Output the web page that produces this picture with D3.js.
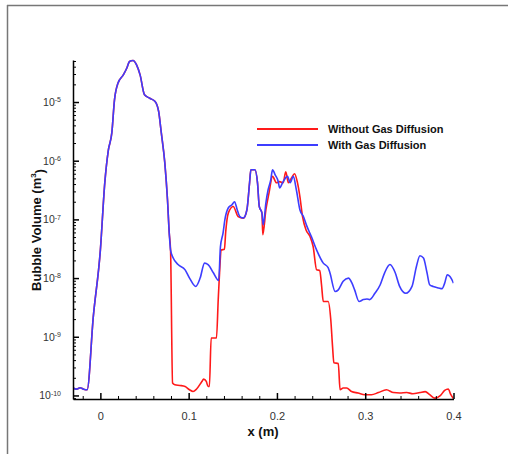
<!DOCTYPE html>
<html><head><meta charset="utf-8">
<script src="https://cdn.jsdelivr.net/npm/d3@7"></script>
<style>html,body{margin:0;padding:0;background:#fff;}svg{display:block;}</style>
</head><body>
<svg id="chart" width="508" height="454"></svg>
<script>
// ---- data ----
const sharedX = [-0.031,-0.027,-0.023,-0.019,-0.015,-0.008,0.0,0.005,0.009,0.013,0.016,0.020,0.026,0.030,0.033,0.037,0.041,0.045,0.050,0.056,0.062,0.066,0.069,0.073,0.076,0.078,0.0795];
const sharedV = [1.34e-10,1.28e-10,1.35e-10,1.28e-10,1.25e-10,2.2e-9,3.0e-8,4.2e-7,1.5e-6,3.0e-6,1.09e-5,2.1e-5,2.9e-5,3.8e-5,4.9e-5,5.1e-5,4.3e-5,2.9e-5,1.33e-5,1.16e-5,1.02e-5,6.9e-6,3.0e-6,9.2e-7,2.2e-7,5.9e-8,3.0e-8];

const withTailX = [0.0825,0.088,0.096,0.101,0.108,0.113,0.118,0.122,0.128,0.134,0.136,0.139,0.141,0.145,0.149,0.152,0.155,0.158,0.162,0.166,0.169,0.1705,0.175,0.178,0.180,0.183,0.1845,0.1875,0.190,0.193,0.195,0.198,0.2015,0.203,0.207,0.212,0.215,0.2185,0.222,0.226,0.230,0.234,0.239,0.245,0.2525,0.258,0.260,0.266,0.2695,0.275,0.281,0.285,0.288,0.293,0.298,0.302,0.305,0.311,0.317,0.322,0.328,0.334,0.339,0.346,0.353,0.358,0.362,0.366,0.370,0.373,0.377,0.383,0.387,0.390,0.393,0.396,0.400];
const withTailV = [2.2e-8,1.7e-8,1.38e-8,1.0e-8,7.2e-9,1.0e-8,1.8e-8,1.7e-8,1.23e-8,9.1e-9,3.4e-8,5.9e-8,9.8e-8,1.58e-7,1.77e-7,2.0e-7,1.46e-7,1.12e-7,1.06e-7,1.46e-7,4.2e-7,7.0e-7,7.0e-7,4.2e-7,1.66e-7,1.29e-7,8.1e-8,1.92e-7,3.2e-7,4.7e-7,7.0e-7,5.75e-7,4.4e-7,3.45e-7,4.4e-7,5.4e-7,4.2e-7,5.4e-7,3.2e-7,1.46e-7,1.12e-7,7.6e-8,5.1e-8,3.0e-8,1.8e-8,1.5e-8,1.23e-8,5.9e-9,6.3e-9,8.8e-9,1.0e-8,8.2e-9,6.3e-9,4.0e-9,4.3e-9,4.4e-9,4.3e-9,5.5e-9,7.7e-9,1.23e-8,1.7e-8,1.23e-8,7.2e-9,5.5e-9,7.2e-9,1.58e-8,2.4e-8,2.2e-8,1.23e-8,7.7e-9,7.2e-9,6.8e-9,6.6e-9,8.2e-9,1.14e-8,1.06e-8,8.2e-9];

const withoutTailX = [0.0818,0.0844,0.090,0.096,0.101,0.105,0.109,0.115,0.117,0.120,0.122,0.1235,0.1255,0.1315,0.1335,0.1346,0.137,0.1405,0.142,0.145,0.1505,0.156,0.162,0.166,0.169,0.1705,0.175,0.178,0.180,0.183,0.184,0.1875,0.191,0.195,0.1995,0.203,0.207,0.210,0.213,0.2165,0.220,0.223,0.226,0.229,0.233,0.2375,0.241,0.245,0.2485,0.2505,0.2525,0.258,0.261,0.263,0.2645,0.2695,0.2715,0.275,0.279,0.2845,0.292,0.2995,0.307,0.315,0.324,0.332,0.339,0.347,0.354,0.362,0.368,0.373,0.379,0.385,0.390,0.394,0.397,0.400];
const withoutTailV = [1.63e-10,1.52e-10,1.48e-10,1.42e-10,1.25e-10,1.17e-10,1.29e-10,1.73e-10,1.9e-10,1.73e-10,1.42e-10,1.42e-10,9.5e-10,9.5e-10,4.3e-9,9.3e-9,3.0e-8,3.1e-8,6.2e-8,1.29e-7,1.66e-7,1.12e-7,1.05e-7,1.46e-7,4.2e-7,7.0e-7,7.0e-7,4.2e-7,1.66e-7,1.29e-7,5.5e-8,1.46e-7,2.8e-7,5.4e-7,4.2e-7,4.4e-7,4.2e-7,6.5e-7,4.2e-7,5.1e-7,6.0e-7,4.4e-7,2.45e-7,1.12e-7,6.6e-8,5.1e-8,3.45e-8,1.38e-8,1.35e-8,7.7e-9,4.0e-9,4.0e-9,1.95e-9,6.8e-10,3.6e-10,3.5e-10,1.25e-10,1.34e-10,1.34e-10,1.17e-10,1.1e-10,1.03e-10,1.03e-10,1.12e-10,1.25e-10,1.12e-10,1.1e-10,1.12e-10,1.07e-10,1.12e-10,1.16e-10,1.03e-10,9.0e-11,9.9e-11,1.22e-10,1.29e-10,1.03e-10,8.8e-11];

const seriesNames = ["Without Gas Diffusion", "With Gas Diffusion"];
const xMajorTicks = [0, 0.1, 0.2, 0.3, 0.4];
const xMinorTicks = [-0.02,0.02,0.04,0.06,0.08,0.12,0.14,0.16,0.18,0.22,0.24,0.26,0.28,0.32,0.34,0.36,0.38];
const yExponents = [-10, -9, -8, -7, -6, -5];
const xDomain = [-0.031, 0.4];
const yDomain = [8.7e-11, 5.2e-5];

// ---- build ----
const svg = d3.select("#chart");
const pL = 73, pR = 453.5, pT = 60, pB = 399;
const FONT = "Arial, 'Liberation Sans', sans-serif";

// outer frame
svg.append("line").attr("x1",7).attr("x2",508).attr("y1",5.5).attr("y2",5.5).attr("stroke","#777").attr("stroke-width",1.5);
svg.append("line").attr("x1",7.5).attr("x2",7.5).attr("y1",5).attr("y2",454).attr("stroke","#777").attr("stroke-width",1.5);

const x = d3.scaleLinear().domain(xDomain).range([pL, pR]);
const y = d3.scaleLog().domain(yDomain).range([pB, pT]);

svg.append("defs").append("clipPath").attr("id","clip")
  .append("rect").attr("x",pL).attr("y",pT-3).attr("width",pR-pL).attr("height",pB-pT+3);

const line = d3.line().curve(d3.curveMonotoneX).x(d => x(d[0])).y(d => y(d[1]));
const without = sharedX.map((v,i)=>[v, sharedV[i]]).concat(withoutTailX.map((v,i)=>[v, withoutTailV[i]]));
const withD = sharedX.map((v,i)=>[v, sharedV[i]]).concat(withTailX.map((v,i)=>[v, withTailV[i]]));

const g = svg.append("g").attr("clip-path","url(#clip)");
g.append("path").datum(without).attr("d", line).attr("fill","none").attr("stroke","#ff1a1a").attr("stroke-width",1.6).attr("stroke-linejoin","round");
g.append("path").datum(withD).attr("d", line).attr("fill","none").attr("stroke","#3d3dff").attr("stroke-width",1.6).attr("stroke-linejoin","round");

// y minor ticks
const yMinor = [];
for (let e = -11; e <= -5; e++) for (let m = 2; m <= 9; m++) { const v = m * Math.pow(10, e); if (v >= yDomain[0] && v <= yDomain[1]) yMinor.push(v); }
svg.append("g").attr("transform",`translate(${pL},0)`)
  .call(d3.axisLeft(y).tickValues(yMinor).tickSizeInner(-3).tickSizeOuter(0).tickFormat(""))
  .call(s => s.select(".domain").remove())
  .selectAll("line").attr("stroke","#000").attr("stroke-width",1);

const yAx = svg.append("g").attr("transform",`translate(${pL},0)`)
  .call(d3.axisLeft(y).tickValues(yExponents.map(e => Math.pow(10, e))).tickSizeInner(-6).tickSizeOuter(0).tickPadding(12).tickFormat(""));
yAx.select(".domain").attr("stroke","#000").attr("stroke-width",1.5);
yAx.selectAll(".tick line").attr("stroke","#000").attr("stroke-width",1.5);
yAx.selectAll(".tick text").each(function(d){
  const t = d3.select(this).attr("font-family",FONT).attr("fill","#333").attr("font-size",10.5);
  t.append("tspan").text("10");
  t.append("tspan").attr("font-size",7).attr("dy","-0.5em").text(String(Math.round(Math.log10(d))));
});

// x minor ticks
svg.append("g").attr("transform",`translate(0,${pB})`)
  .call(d3.axisBottom(x).tickValues(xMinorTicks).tickSizeInner(-3).tickSizeOuter(0).tickFormat(""))
  .call(s => s.select(".domain").remove())
  .selectAll("line").attr("stroke","#000").attr("stroke-width",1);

const xAx = svg.append("g").attr("transform",`translate(0,${pB})`)
  .call(d3.axisBottom(x).tickValues(xMajorTicks).tickSizeInner(-6).tickSizeOuter(0).tickPadding(13).tickFormat(d => String(d)));
xAx.select(".domain").attr("stroke","#000").attr("stroke-width",1.5);
xAx.selectAll(".tick line").attr("stroke","#000").attr("stroke-width",1.5);
xAx.selectAll(".tick text").attr("font-family",FONT).attr("font-size",11).attr("fill","#333");

// axis titles
svg.append("text").attr("x",263).attr("y",436).attr("text-anchor","middle")
  .attr("font-family",FONT).attr("font-weight","bold").attr("font-size",13).attr("fill","#111").text("x (m)");
const yt = svg.append("text").attr("transform","translate(41,230) rotate(-90)").attr("text-anchor","middle")
  .attr("font-family",FONT).attr("font-weight","bold").attr("font-size",13).attr("fill","#111");
yt.append("tspan").text("Bubble Volume (m");
yt.append("tspan").attr("font-size",8).attr("dy","-0.6em").text("3");
yt.append("tspan").attr("dy","0.6em").text(")");

// legend
const legColors = ["#ff1a1a", "#3d3dff"];
seriesNames.forEach((name, i) => {
  const ly = 129 + i * 16;
  svg.append("line").attr("x1",257).attr("x2",318).attr("y1",ly).attr("y2",ly).attr("stroke",legColors[i]).attr("stroke-width",1.8);
  svg.append("text").attr("x",328).attr("y",ly+4).attr("font-family",FONT)
    .attr("font-weight","bold").attr("font-size",11).attr("fill","#111").text(name);
});
</script>
</body></html>
